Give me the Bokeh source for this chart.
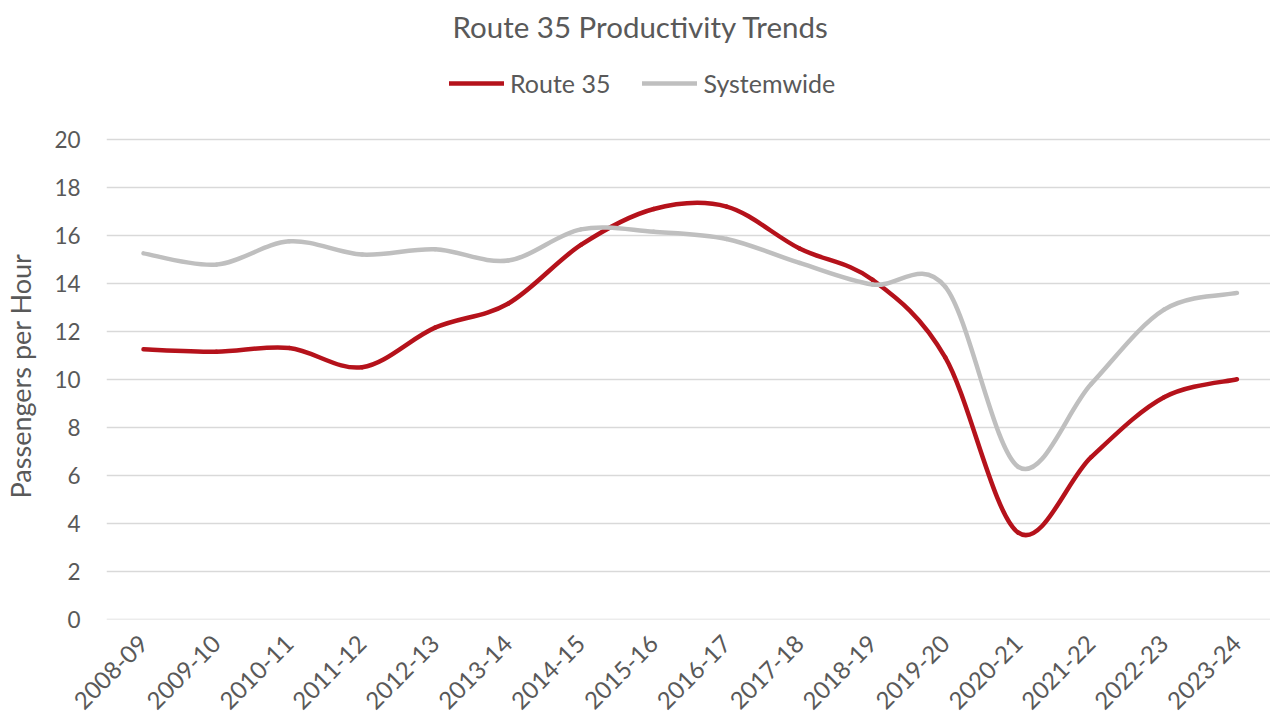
import numpy as np
from bokeh.plotting import figure
from bokeh.layouts import column
from bokeh.models import Range1d, FixedTicker, Legend, LegendItem, ColumnDataSource
from bokeh.embed import file_html
from bokeh.resources import INLINE
from math import pi

categories = ["2008-09", "2009-10", "2010-11", "2011-12", "2012-13", "2013-14",
              "2014-15", "2015-16", "2016-17", "2017-18", "2018-19", "2019-20",
              "2020-21", "2021-22", "2022-23", "2023-24"]
route35 = [11.25, 11.15, 11.3, 10.5, 12.15, 13.15, 15.6, 17.1, 17.2, 15.45,
           14.15, 10.9, 3.6, 6.75, 9.25, 10.0]
systemwide = [15.25, 14.78, 15.75, 15.2, 15.42, 14.95, 16.25, 16.15, 15.85, 14.85,
              13.95, 13.85, 6.35, 9.8, 12.9, 13.6]
y_ticks = [0, 2, 4, 6, 8, 10, 12, 14, 16, 18, 20]

TEXT = "#595959"
FONT = "Lato"
RED = "#B5121B"
GREY = "#BFBFBF"


def bezier_segments(ys):
    ys = np.asarray(ys, dtype=float)
    xs = np.arange(len(ys), dtype=float)
    n = len(ys)
    d = dict(x0=[], y0=[], x1=[], y1=[], cx0=[], cy0=[], cx1=[], cy1=[])
    for i in range(n - 1):
        a = max(i - 1, 0)
        b = min(i + 2, n - 1)
        d["x0"].append(xs[i]); d["y0"].append(ys[i])
        d["x1"].append(xs[i + 1]); d["y1"].append(ys[i + 1])
        d["cx0"].append(xs[i] + (xs[i + 1] - xs[a]) / 6)
        d["cy0"].append(ys[i] + (ys[i + 1] - ys[a]) / 6)
        d["cx1"].append(xs[i + 1] - (xs[b] - xs[i]) / 6)
        d["cy1"].append(ys[i + 1] - (ys[b] - ys[i]) / 6)
    return ColumnDataSource(d)


# ---- header: title + legend ----
h = figure(width=1270, height=120, output_backend="svg", toolbar_location=None,
           x_range=Range1d(0, 1), y_range=Range1d(0, 1),
           x_axis_type=None, y_axis_type=None,
           min_border_left=0, min_border_right=0, min_border_top=46, min_border_bottom=0,
           title="Route 35 Productivity Trends")
h.outline_line_color = None
h.xgrid.visible = False
h.ygrid.visible = False
h.title.align = "left"
h.title.offset = 346
h.title.standoff = 12
h.title.text_font = FONT
h.title.text_font_size = "29.5px"
h.title.text_font_style = "normal"
h.title.text_color = TEXT

nan = float("nan")
r_leg = h.line(x=[nan, nan], y=[nan, nan], line_color=RED, line_width=4.5, line_cap="round")
s_leg = h.line(x=[nan, nan], y=[nan, nan], line_color=GREY, line_width=4.5, line_cap="round")
legend = Legend(items=[LegendItem(label="Route 35", renderers=[r_leg]),
                       LegendItem(label="Systemwide", renderers=[s_leg])],
                orientation="horizontal", location=(343, 22),
                glyph_width=55, glyph_height=26, label_height=26, label_standoff=6, spacing=32,
                padding=0, margin=0, border_line_color=None,
                background_fill_alpha=0,
                label_text_font=FONT, label_text_font_size="25px", label_text_color=TEXT)
h.add_layout(legend, "center")

# ---- main chart ----
p = figure(width=1270, height=599, output_backend="svg", toolbar_location=None,
           x_range=Range1d(-0.5075, 15.46), y_range=Range1d(-0.02, 20.29),
           min_border_left=106, min_border_right=0, min_border_top=12,
           min_border_bottom=100)
p.outline_line_color = None
p.background_fill_color = "white"
p.border_fill_color = "white"

p.xgrid.visible = False
p.ygrid.grid_line_color = "#D9D9D9"
p.ygrid.grid_line_width = 1.5
p.yaxis.ticker = FixedTicker(ticks=y_ticks)
p.xaxis.ticker = FixedTicker(ticks=list(range(len(categories))))
p.xaxis.major_label_overrides = {i: c for i, c in enumerate(categories)}
p.xaxis.major_label_orientation = pi / 4

for ax in (p.xaxis[0], p.yaxis[0]):
    ax.axis_line_color = None
    ax.major_tick_line_color = None
    ax.minor_tick_line_color = None
    ax.major_label_text_font = FONT
    ax.major_label_text_color = TEXT
p.yaxis.major_label_text_font_size = "22.5px"
p.xaxis.major_label_text_font_size = "24px"
p.yaxis.major_label_standoff = 20
p.xaxis.major_label_standoff = 14
p.yaxis.axis_label = "Passengers per Hour"
p.yaxis.axis_label_text_font = FONT
p.yaxis.axis_label_text_font_size = "27px"
p.yaxis.axis_label_text_font_style = "normal"
p.yaxis.axis_label_text_color = TEXT
p.yaxis.axis_label_standoff = 14

p.bezier(x0="x0", y0="y0", x1="x1", y1="y1", cx0="cx0", cy0="cy0", cx1="cx1", cy1="cy1",
         source=bezier_segments(route35), line_color=RED, line_width=4.5, line_cap="round")
p.bezier(x0="x0", y0="y0", x1="x1", y1="y1", cx0="cx0", cy0="cy0", cx1="cx1", cy1="cy1",
         source=bezier_segments(systemwide), line_color=GREY, line_width=4.5, line_cap="round")

layout = column(h, p, spacing=0)
open("out.html", "w").write(file_html(layout, INLINE))
